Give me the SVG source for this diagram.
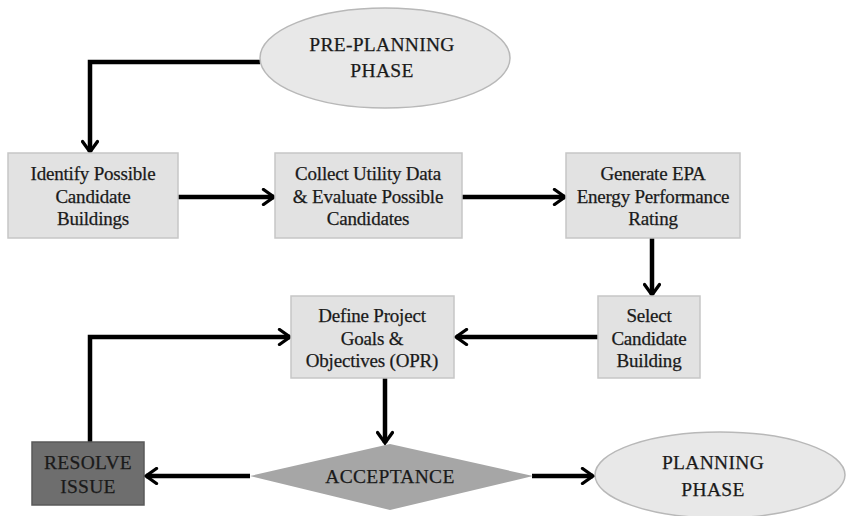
<svg xmlns="http://www.w3.org/2000/svg" width="848" height="516" viewBox="0 0 848 516">
<defs>
<style>
.box{fill:#e2e2e2;stroke:#c6c6c6;stroke-width:1.5}
.ell{fill:#e8e8e8;stroke:#b8b8b8;stroke-width:1.5}
.t{font-family:"Liberation Serif","Times New Roman",serif;font-size:19px;letter-spacing:-0.2px;fill:#1a1a1a;stroke:#1a1a1a;stroke-width:0.25;text-anchor:middle}
.u{font-size:19.5px;letter-spacing:0.3px}
.c{fill:none;stroke:#000;stroke-width:4.5;marker-end:url(#ah)}
</style>
<marker id="ah" viewBox="0 0 12 12" refX="10" refY="6" markerWidth="4" markerHeight="4" orient="auto" markerUnits="strokeWidth">
<path d="M3,1 L10,6 L3,11" fill="none" stroke="#000" stroke-width="2.2" stroke-linecap="round" stroke-linejoin="miter"/>
</marker>
</defs>
<rect width="848" height="516" fill="#fff"/>
<g id="connectors">
<path class="c" d="M260,62 H90 V152"/>
<path class="c" d="M178,197 H274"/>
<path class="c" d="M462,197 H565"/>
<path class="c" d="M652,238 V295"/>
<path class="c" d="M598,337 H456"/>
<path class="c" d="M385,378 V443"/>
<path class="c" d="M250,476 H146"/>
<path class="c" d="M532,476 H593"/>
<path class="c" d="M90,442 V337 H290"/>
</g>
<g id="pre-planning">
<ellipse class="ell" cx="385" cy="58" rx="125" ry="50"/>
<text class="t u" x="382" y="51">PRE-PLANNING</text>
<text class="t u" x="382" y="77">PHASE</text>
</g>
<g id="identify">
<rect class="box" x="8" y="153" width="170" height="85"/>
<text class="t" x="93" y="180">Identify Possible</text>
<text class="t" x="93" y="203">Candidate</text>
<text class="t" x="93" y="225">Buildings</text>
</g>
<g id="collect">
<rect class="box" x="275" y="153" width="187" height="85"/>
<text class="t" x="368" y="180">Collect Utility Data</text>
<text class="t" x="368" y="203">&amp; Evaluate Possible</text>
<text class="t" x="368" y="225">Candidates</text>
</g>
<g id="generate">
<rect class="box" x="566" y="153" width="174" height="85"/>
<text class="t" x="653" y="180">Generate EPA</text>
<text class="t" x="653" y="203">Energy Performance</text>
<text class="t" x="653" y="225">Rating</text>
</g>
<g id="select">
<rect class="box" x="598" y="296" width="102" height="82"/>
<text class="t" x="649" y="322">Select</text>
<text class="t" x="649" y="345">Candidate</text>
<text class="t" x="649" y="367">Building</text>
</g>
<g id="define">
<rect class="box" x="291" y="296" width="163" height="82"/>
<text class="t" x="372" y="322">Define Project</text>
<text class="t" x="372" y="345">Goals &amp;</text>
<text class="t" x="372" y="367">Objectives (OPR)</text>
</g>
<g id="acceptance">
<polygon points="390,444 533,476 390,510 250,476" fill="#a6a6a6"/>
<text class="t u" x="390" y="483">ACCEPTANCE</text>
</g>
<g id="resolve">
<rect x="32" y="442" width="112" height="63" fill="#6e6e6e" stroke="#5a5a5a" stroke-width="1.5"/>
<text class="t u" x="88" y="469">RESOLVE</text>
<text class="t u" x="88" y="493">ISSUE</text>
</g>
<g id="planning">
<ellipse class="ell" cx="720" cy="475" rx="125" ry="43"/>
<text class="t u" x="713" y="469">PLANNING</text>
<text class="t u" x="713" y="496">PHASE</text>
</g>
</svg>
